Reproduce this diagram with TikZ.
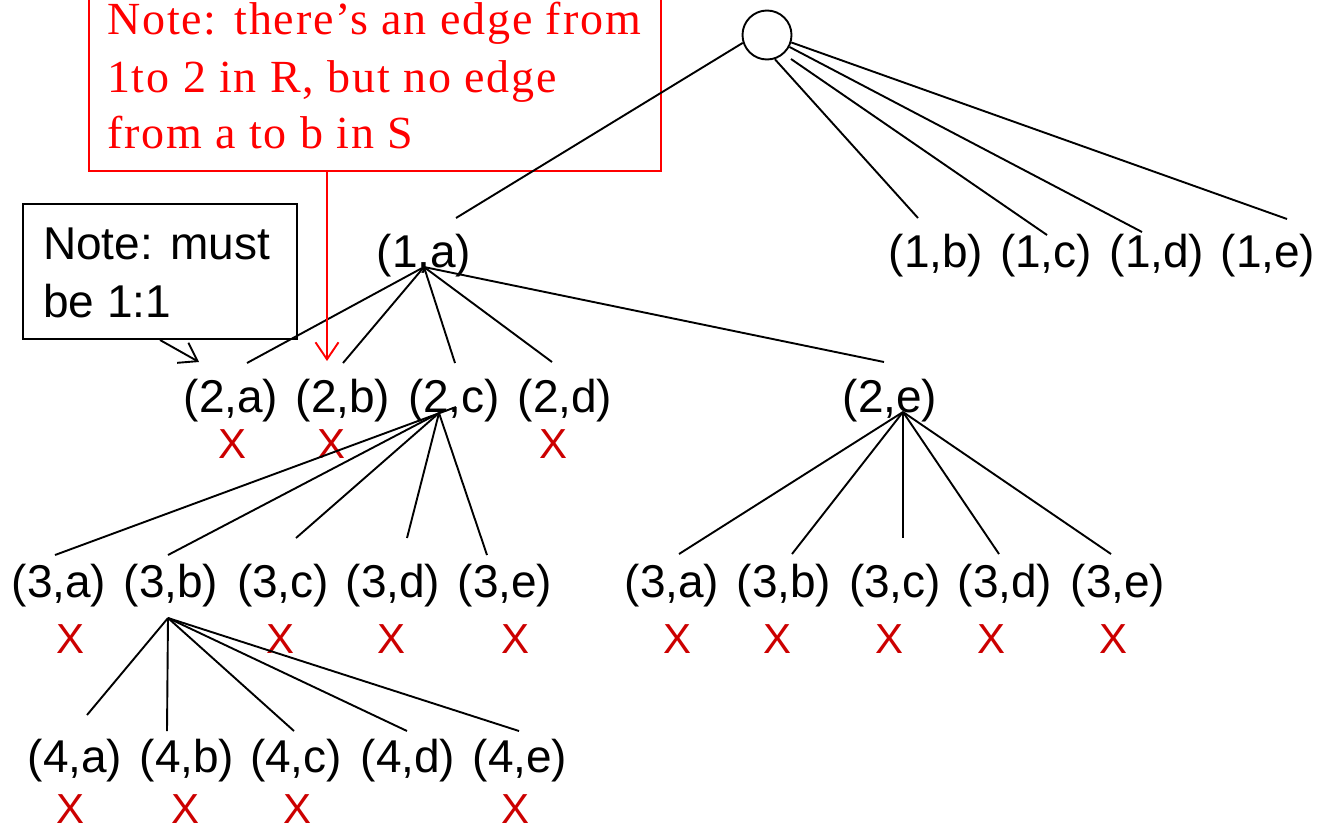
\documentclass[tikz,border=0pt]{standalone}
\usepackage{fontspec}
\setmainfont{Liberation Sans}
\newfontfamily\notefont{Liberation Serif}[LetterSpace=4]
\usetikzlibrary{arrows.meta}
\definecolor{xred}{RGB}{204,0,0}
\definecolor{nred}{RGB}{255,0,0}
\begin{document}
\begin{tikzpicture}[x=1pt,y=-1pt,
  lbl/.style={font=\fontsize{46}{55}\selectfont, inner sep=0pt, anchor=base},
  xmark/.style={font=\fontsize{42}{50}\selectfont, text=xred, inner sep=0pt, anchor=base},
  edge/.style={line width=1.9pt},
  rline/.style={font=\notefont\fontsize{46}{55}\selectfont, text=nred, inner sep=0pt, anchor=base west},
  bline/.style={font=\fontsize{46}{55}\selectfont, inner sep=0pt, anchor=base west},
  barb/.style={-{Straight Barb[length=17pt,width=23pt]}}]
\useasboundingbox (0,0) rectangle (1322,830);

% note boxes
\node[draw=nred, line width=2pt, inner sep=0pt, minimum width=572pt, minimum height=200pt, anchor=south west] (rbox) at (88,172) {};
\node[rline] (r1) at (107,34) {Note: there’s an edge from};
\node[rline] (r2) at (107,92) {1to 2 in R, but no edge};
\node[rline] (r3) at (107,148) {from a to b in S};

\node[draw, line width=2pt, inner sep=0pt, minimum width=274pt, minimum height=135pt, anchor=north west] (bbox) at (22,203) {};
\node[bline] (b1) at (43,259) {Note: must};
\node[bline] (b2) at (43,317) {be 1:1};

% root
\node[draw, circle, line width=1.9pt, minimum size=49pt, inner sep=0pt] (root) at (767,35) {};

% labels
\node[lbl] (n1a) at (424,267) {(1,a)};
\node[lbl] (n1b) at (936,267) {(1,b)};
\node[lbl] (n1c) at (1046,267) {(1,c)};
\node[lbl] (n1d) at (1157,267) {(1,d)};
\node[lbl] (n1e) at (1268,267) {(1,e)};

\node[lbl] (n2a) at (231,412) {(2,a)};
\node[lbl] (n2b) at (343,412) {(2,b)};
\node[lbl] (n2c) at (454,412) {(2,c)};
\node[lbl] (n2d) at (565,412) {(2,d)};
\node[lbl] (n2e) at (890,412) {(2,e)};

\node[lbl] (n3a) at (59,597) {(3,a)};
\node[lbl] (n3b) at (171,597) {(3,b)};
\node[lbl] (n3c) at (283,597) {(3,c)};
\node[lbl] (n3d) at (393,597) {(3,d)};
\node[lbl] (n3e) at (505,597) {(3,e)};

\node[lbl] (m3a) at (672,597) {(3,a)};
\node[lbl] (m3b) at (784,597) {(3,b)};
\node[lbl] (m3c) at (895,597) {(3,c)};
\node[lbl] (m3d) at (1005,597) {(3,d)};
\node[lbl] (m3e) at (1118,597) {(3,e)};

\node[lbl] (n4a) at (75,772) {(4,a)};
\node[lbl] (n4b) at (187,772) {(4,b)};
\node[lbl] (n4c) at (296,772) {(4,c)};
\node[lbl] (n4d) at (408,772) {(4,d)};
\node[lbl] (n4e) at (520,772) {(4,e)};

% X marks
\node[xmark] (x2a) at (233,458) {X};
\node[xmark] (x2b) at (332,458) {X};
\node[xmark] (x2d) at (553,458) {X};
\node[xmark] (x3a) at (71,653) {X};
\node[xmark] (x3c) at (281,653) {X};
\node[xmark] (x3d) at (392,653) {X};
\node[xmark] (x3e) at (516,653) {X};
\node[xmark] (y3a) at (677,653) {X};
\node[xmark] (y3b) at (777,653) {X};
\node[xmark] (y3c) at (889,653) {X};
\node[xmark] (y3d) at (991,653) {X};
\node[xmark] (y3e) at (1113,653) {X};
\node[xmark] (x4a) at (71,823) {X};
\node[xmark] (x4b) at (186,823) {X};
\node[xmark] (x4c) at (298,823) {X};
\node[xmark] (x4e) at (516,823) {X};

% connector end points
\coordinate (s1c) at (791,59);
\coordinate (t1a) at (456,218);
\coordinate (t1b) at (918,218);
\coordinate (t1c) at (1047,235);
\coordinate (t1d) at (1142,232);
\coordinate (t1e) at (1287,219);

\coordinate (h1a) at (424,267);
\coordinate (t2a) at (247,363);
\coordinate (t2b) at (343,363);
\coordinate (t2c) at (455,363);
\coordinate (t2d) at (552,362);
\coordinate (t2e) at (884,362);

\coordinate (h2c) at (439,413);
\coordinate (h2cx) at (456,407);
\coordinate (t3a) at (55,555);
\coordinate (t3b) at (168,555);
\coordinate (t3c) at (296,538);
\coordinate (t3d) at (407,538);
\coordinate (t3e) at (487,555);

\coordinate (h2e) at (903,412);
\coordinate (u3a) at (679,554);
\coordinate (u3b) at (792,554);
\coordinate (u3c) at (903,538);
\coordinate (u3d) at (999,554);
\coordinate (u3e) at (1111,554);

\coordinate (h3b) at (168,618);
\coordinate (t4a) at (87,715);
\coordinate (t4b) at (167,731);
\coordinate (t4c) at (294,731);
\coordinate (t4d) at (407,731);
\coordinate (t4e) at (519,731);

\coordinate (tipb) at (327,361);
\coordinate (tipa) at (199,362);

% connectors
\draw[edge] (root.198) -- (t1a);
\draw[edge] (root.288) -- (t1b);
\draw[edge] (s1c) -- (t1c);
\draw[edge] (root.332) -- (t1d);
\draw[edge] (root.343) -- (t1e);

\foreach \t in {t2a,t2b,t2c,t2d,t2e} \draw[edge] (h1a) -- (\t);
\draw[edge] (h2cx) -- (t3a);
\foreach \t in {t3b,t3c,t3d,t3e} \draw[edge] (h2c) -- (\t);
\foreach \t in {u3a,u3b,u3c,u3d,u3e} \draw[edge] (h2e) -- (\t);
\foreach \t in {t4a,t4b,t4c,t4d,t4e} \draw[edge] (h3b) -- (\t);

\draw[edge, nred, barb] (tipb |- rbox.south) -- (tipb);
\draw[edge, barb] (bbox.south) -- (tipa);
\end{tikzpicture}
\end{document}
